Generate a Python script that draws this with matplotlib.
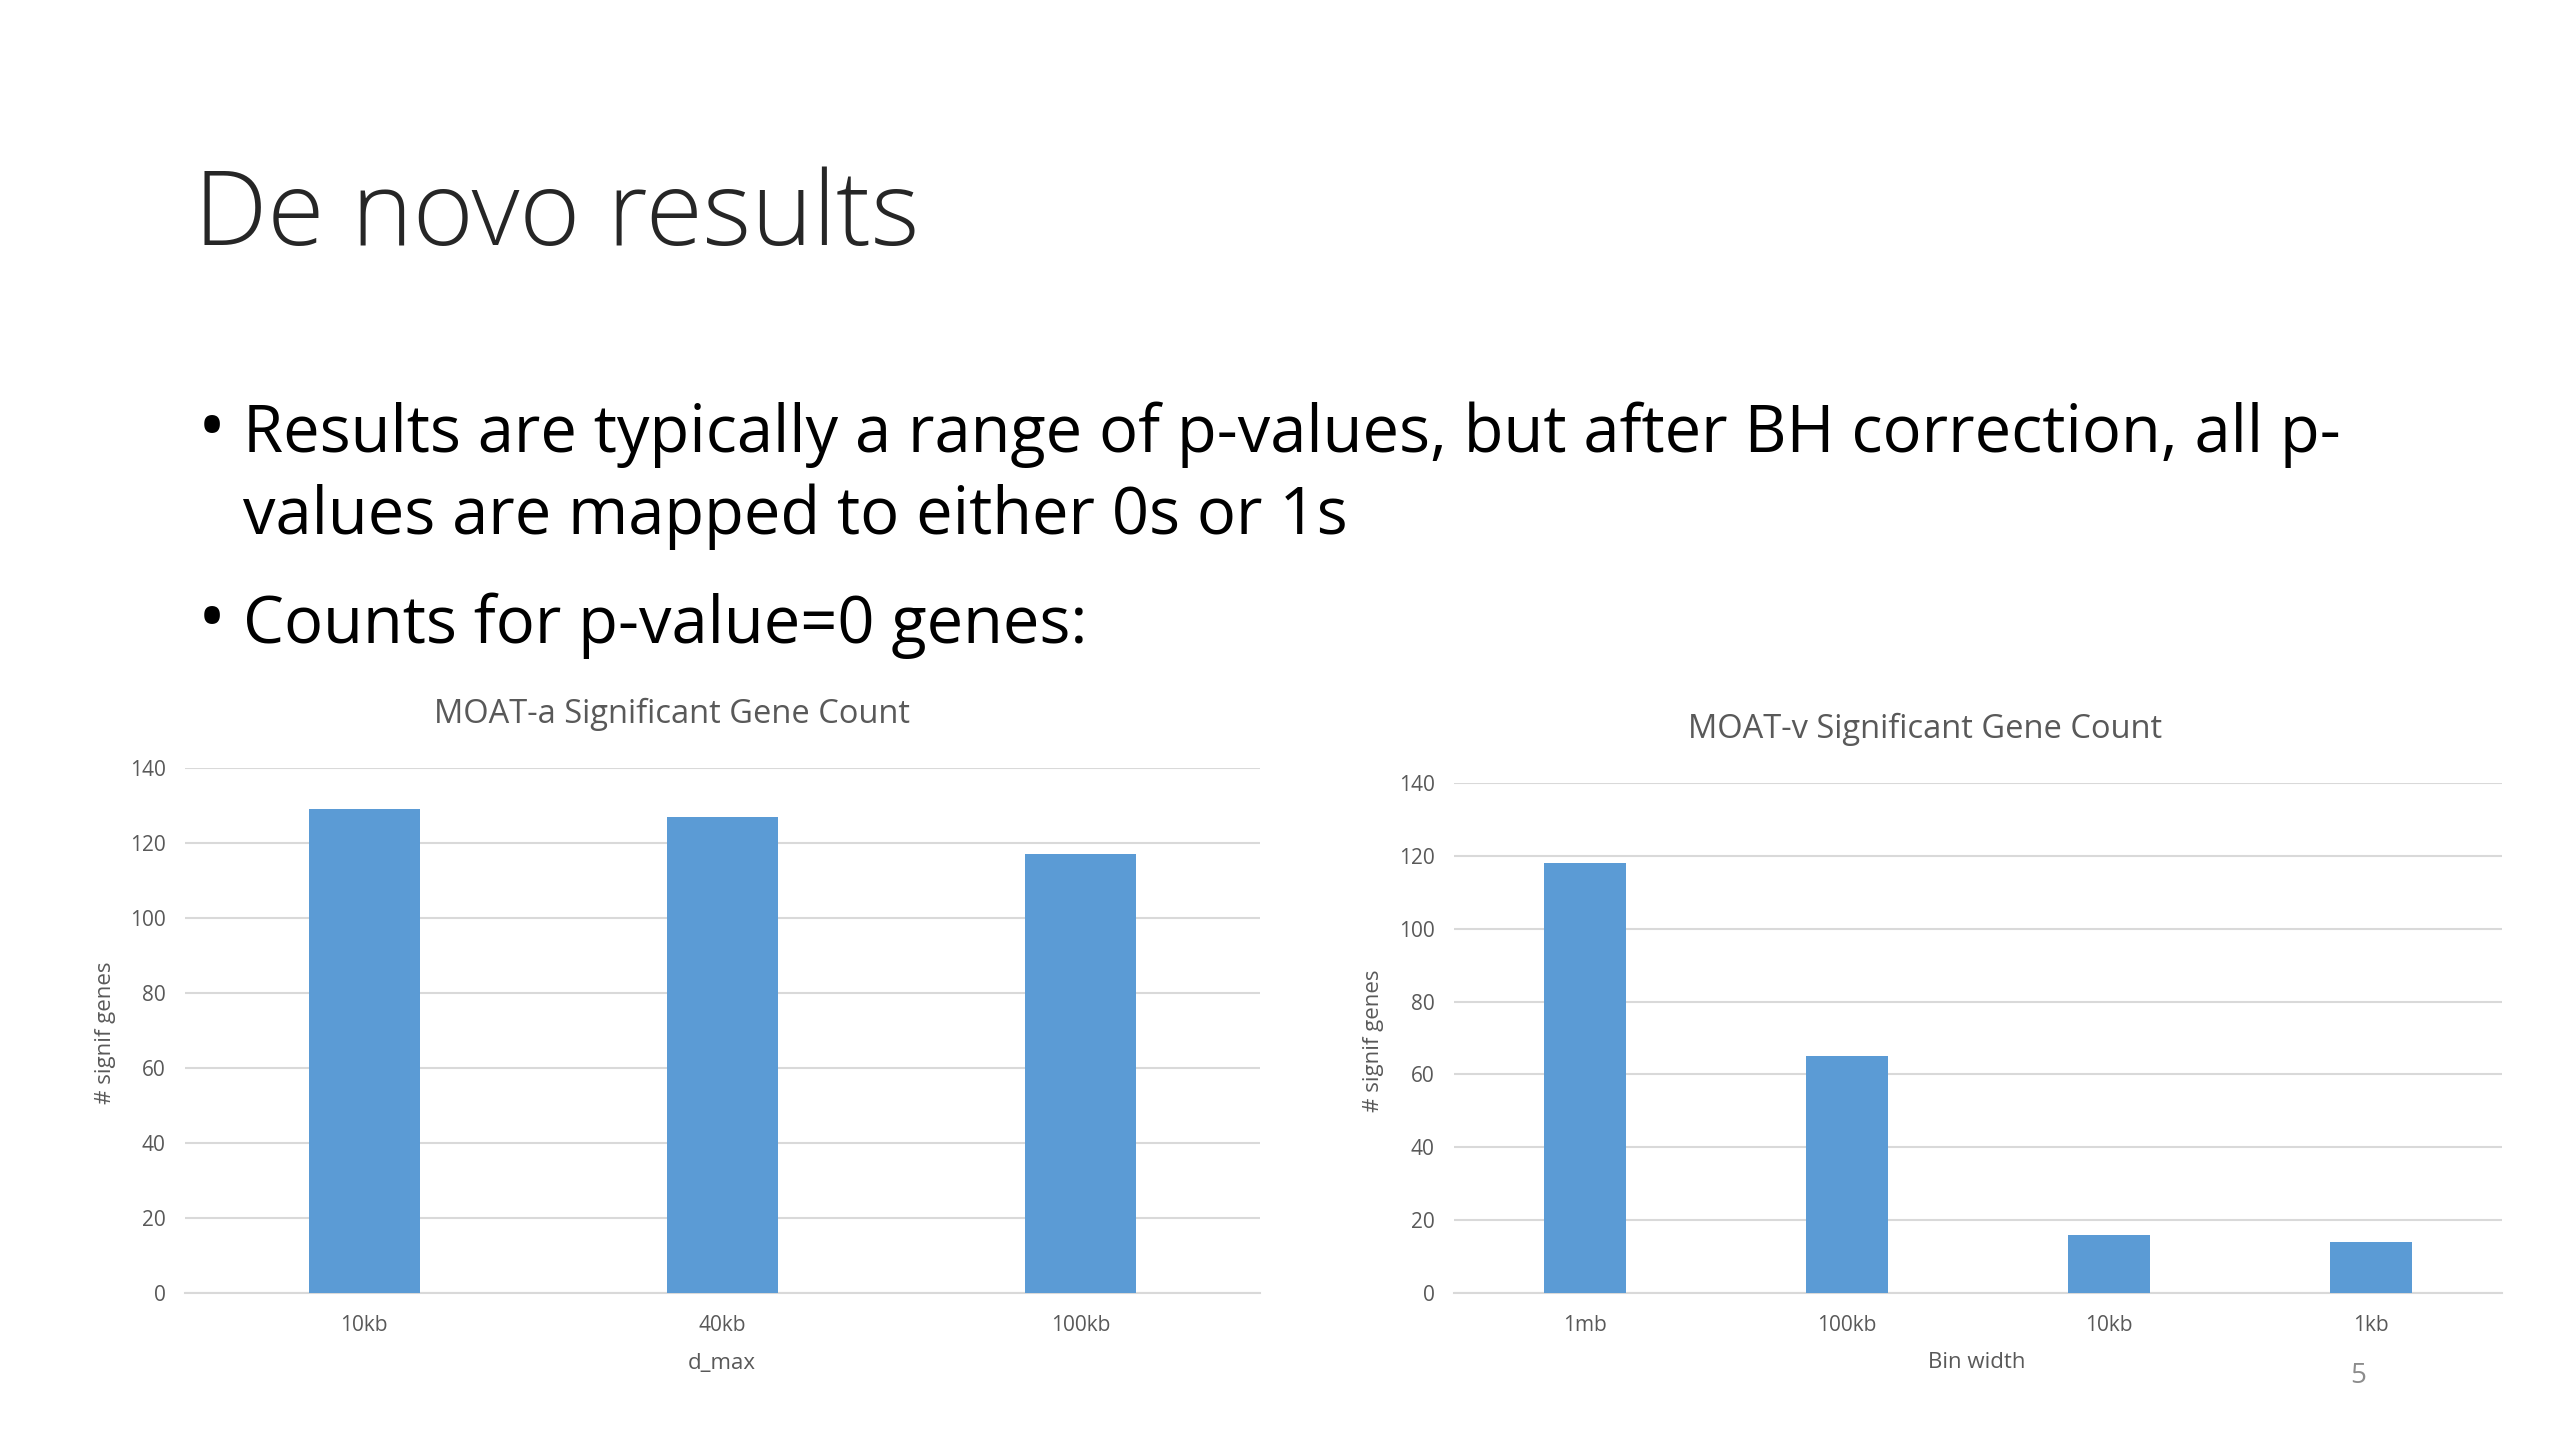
import matplotlib.pyplot as plt

# chart values
dmax_labels = ['10kb', '40kb', '100kb']
moat_a_counts = [129, 127, 117]

bin_labels = ['1mb', '100kb', '10kb', '1kb']
moat_v_counts = [118, 65, 16, 14]

y_ticks = [0, 20, 40, 60, 80, 100, 120, 140]

plt.rcParams['font.family'] = ['Open Sans', 'DejaVu Sans']

bar_color = '#5b9bd5'
grid_color = '#d9d9d9'
tick_color = '#595959'

fig = plt.figure(figsize=(25.6, 14.4), dpi=100)
fig.patch.set_facecolor('white')

# slide text
fig.text(194 / 2560, 1 - 218 / 1440, 'De novo results', fontsize=75, color='#262626',
         va='center', ha='left', fontweight='light')
fig.text(198 / 2560, 1 - 432 / 1440, '•', fontsize=54, color='black', va='center')
fig.text(243 / 2560, 1 - 435 / 1440,
         'Results are typically a range of p-values, but after BH correction, all p-',
         fontsize=46.8, color='black', va='center')
fig.text(243 / 2560, 1 - 517 / 1440, 'values are mapped to either 0s or 1s',
         fontsize=46.8, color='black', va='center')
fig.text(198 / 2560, 1 - 623 / 1440, '•', fontsize=54, color='black', va='center')
fig.text(243 / 2560, 1 - 626 / 1440, 'Counts for p-value=0 genes:',
         fontsize=46.8, color='black', va='center')
fig.text(2358 / 2560, 1 - 1376 / 1440, '5', fontsize=20, color='#8c8c8c',
         ha='center', va='center')


def bar_panel(rect, labels, values, title, title_xy, xlabel, xlabel_xy, ylabel_xy):
    ax = fig.add_axes(rect)
    x = range(len(labels))
    ax.bar(x, values, width=0.31, color=bar_color, zorder=3)
    ax.set_xlim(-0.5, len(labels) - 0.5)
    ax.set_ylim(0, 140)
    ax.set_yticks(y_ticks)
    ax.set_xticks(list(x))
    ax.set_xticklabels(labels)
    ax.grid(axis='y', color=grid_color, linewidth=1.5, zorder=0)
    for s in ['top', 'right', 'left']:
        ax.spines[s].set_visible(False)
    ax.spines['bottom'].set_color(grid_color)
    ax.spines['bottom'].set_linewidth(1.5)
    ax.tick_params(length=0, colors=tick_color, labelsize=15)
    ax.tick_params(axis='x', pad=16)
    ax.tick_params(axis='y', pad=14)
    fig.text(title_xy[0] / 2560, 1 - title_xy[1] / 1440, title, fontsize=23.5,
             color=tick_color, ha='center', va='center')
    fig.text(xlabel_xy[0] / 2560, 1 - xlabel_xy[1] / 1440, xlabel, fontsize=16,
             color=tick_color, ha='center', va='center')
    fig.text(ylabel_xy[0] / 2560, 1 - ylabel_xy[1] / 1440, '# signif genes', fontsize=16,
             color=tick_color, ha='center', va='center', rotation=90)
    return ax


bar_panel([185 / 2560, 1 - 1293 / 1440, 1075 / 2560, 525 / 1440],
          dmax_labels, moat_a_counts, 'MOAT-a Significant Gene Count', (672, 714),
          'd_max', (722, 1363), (105, 1033))
bar_panel([1454 / 2560, 1 - 1293 / 1440, 1048 / 2560, 510 / 1440],
          bin_labels, moat_v_counts, 'MOAT-v Significant Gene Count', (1925, 729),
          'Bin width', (1977, 1363), (1373, 1041))

fig.savefig('out.png', dpi=100)
